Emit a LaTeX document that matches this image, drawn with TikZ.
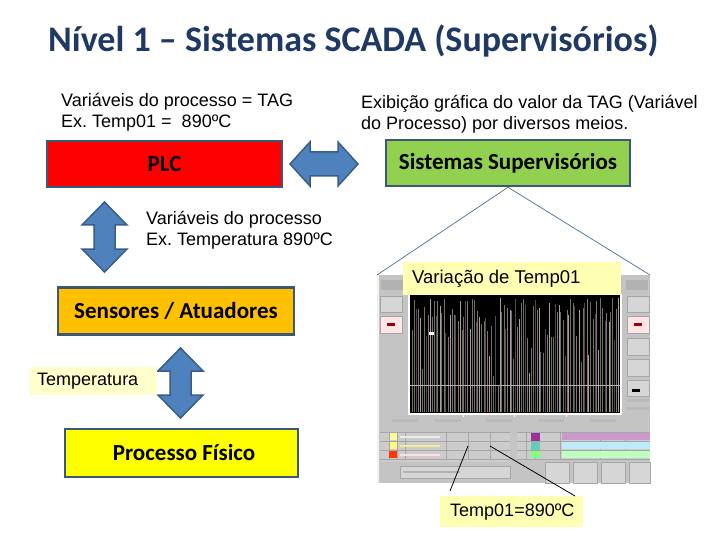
\documentclass[tikz,border=0pt]{standalone}
\usepackage{fontspec}
\setmainfont{Liberation Sans}
\newfontfamily\calib{Carlito}
\usetikzlibrary{positioning}
\definecolor{titlec}{HTML}{1F3864}
\definecolor{bordc}{HTML}{3B5878}
\definecolor{arrf}{HTML}{4F81BD}
\definecolor{arrb}{HTML}{385D8A}
\definecolor{plcred}{HTML}{FF0000}
\definecolor{supgreen}{HTML}{92D050}
\definecolor{sensor}{HTML}{FFC000}
\definecolor{procy}{HTML}{FFFF00}
\definecolor{paley}{HTML}{FFFFB4}
\definecolor{paley2}{HTML}{FFFFCC}
\definecolor{panel}{HTML}{C4C4C4}
\definecolor{panel2}{HTML}{D6D6D6}
\definecolor{tline}{HTML}{4A6E95}
\definecolor{pl1}{HTML}{6E6E6E}
\definecolor{pl2}{HTML}{8A7078}
\definecolor{pl3}{HTML}{6F7358}
\definecolor{pl4}{HTML}{A8A0A0}
\definecolor{pl5}{HTML}{4C4C50}
\tikzset{
  blockbox/.style={draw=bordc, line width=2.5pt, inner sep=0pt, font=\calib\bfseries\fontsize{23}{27}\selectfont},
  bigarrow/.style={fill=arrf, draw=arrb, line width=1.5pt, line join=miter},
  plaintext/.style={inner sep=0pt, align=left, anchor=north west, font=\fontsize{18}{21.5}\selectfont},
  tagbox/.style={fill=paley, inner sep=0pt, anchor=north west},
  btn/.style={fill=panel2, draw=gray!70, line width=0.6pt},
}
\frenchspacing
\begin{document}
\begin{tikzpicture}[x=1pt,y=-1pt]
\useasboundingbox (0,0) rectangle (720,540);
\fill[white] (0,0) rectangle (720,540);

% title
\node[anchor=base west, inner sep=0pt, text=titlec, font=\calib\bfseries\fontsize{36}{40}\selectfont] (title) at (48,52) {Nível 1 – Sistemas SCADA (Supervisórios)};

% texts
\node[plaintext] (t1) at (61,93) {Variáveis do processo = TAG\\Ex. Temp01 =\ \ 890ºC};
\node[plaintext] (t2) at (361,95) {Exibição gráfica do valor da TAG (Variável\\do Processo) por diversos meios.};
\node[plaintext] (t3) at (146,211) {Variáveis do processo\\Ex. Temperatura 890ºC};

% boxes
\node[blockbox, fill=plcred, minimum width=235pt, minimum height=46pt] (plc) at (164.5,164) {PLC};
\node[blockbox, fill=supgreen, minimum width=244pt, minimum height=46pt] (sup) at (508,163) {Sistemas Supervisórios};
\node[blockbox, fill=sensor, minimum width=236pt, minimum height=47pt] (sens) at (176,311) {Sensores / Atuadores};
\node[blockbox, fill=procy, minimum width=233pt, minimum height=48pt] (proc) at (181.5,453) {\ Processo Físico};

% horizontal double arrow
\draw[bigarrow] (290,164) -- (310,142) -- (310,152) -- (338,152) -- (338,142) -- (358,164)
  -- (338,186) -- (338,176) -- (310,176) -- (310,186) -- cycle;
% vertical double arrow 1
\draw[bigarrow] (104.5,202) -- (127,225) -- (115,225) -- (115,249) -- (127,249) -- (104.5,272)
  -- (82,249) -- (94,249) -- (94,225) -- (82,225) -- cycle;
% vertical double arrow 2
\draw[bigarrow] (180.5,348) -- (203,371) -- (191,371) -- (191,395) -- (203,395) -- (180.5,418)
  -- (158,395) -- (170,395) -- (170,371) -- (158,371) -- cycle;

% Temperatura label
\node[fill=paley2, inner sep=0pt, minimum width=127pt, minimum height=28pt, anchor=north west] (temp) at (30,367) {};
\node[anchor=west, inner sep=0pt, font=\fontsize{18}{21}\selectfont] at (37,381) {Temperatura};

% ---------- screenshot ----------
\coordinate (scrTL) at (377,275);
\coordinate (scrTR) at (650,275);
\fill[panel] (377,275) rectangle (650,483);
\fill[white!90!gray] (377,275) rectangle (379,483);
% top bar labels
\fill[gray!60] (381,280) rectangle (405,290);
\fill[gray!60] (626,280) rectangle (648,290);
% left buttons
\draw[btn] (380,296) rectangle (402,312);
\draw[btn, fill=pink!40] (380,316) rectangle (402,333);
\fill[red!60!black] (387,323) rectangle (395,326);
% right buttons
\draw[btn] (627,296) rectangle (649,312);
\draw[btn, fill=pink!40] (627,316) rectangle (649,333);
\fill[red!60!black] (634,323) rectangle (642,326);
\draw[btn] (627,338) rectangle (649,355);
\draw[btn] (627,359) rectangle (649,376);
\draw[btn] (627,380) rectangle (649,396);
\fill[black] (632,389) rectangle (640,392);
\fill[gray!55] (627,399) rectangle (649,402);
\fill[gray!55] (627,407) rectangle (649,410);
% plot area
\fill[white] (408,294) rectangle (622,415);
\fill[black] (410,294) rectangle (620,413);
\pgfmathsetseed{11}
\foreach \i in {0,...,104} {
  \pgfmathsetmacro{\xx}{412+\i*1.98+rnd*1.2}
  \pgfmathsetmacro{\yy}{298+rnd*rnd*95}
  \pgfmathsetmacro{\cc}{int(mod(\i*7,5))}
  \ifnum\cc=0 \def\lc{pl1}\fi
  \ifnum\cc=1 \def\lc{pl2}\fi
  \ifnum\cc=2 \def\lc{pl3}\fi
  \ifnum\cc=3 \def\lc{pl4}\fi
  \ifnum\cc=4 \def\lc{pl5}\fi
  \draw[\lc, line width=0.75pt] (\xx,\yy) -- (\xx,412);
}
\draw[gray!60, line width=0.4pt] (410,385) -- (620,385);
\fill[white] (429,332) rectangle (434,335);
% time axis
\foreach \x in {400,443,494,546,598} {
  \fill[gray!55] (\x-8,419) rectangle (\x+18,421.5);
}
\foreach \x in {463,514,566} { \fill[white] (\x,413) rectangle (\x+1,417); }
% left table
\fill[gray!40] (380,432) rectangle (510,462);
\foreach \y in {432,441,450,459} { \draw[gray!70, line width=0.5pt] (380,\y) -- (510,\y); }
\foreach \x in {389,397,405,446,468,490} { \draw[gray!70, line width=0.5pt] (\x,432) -- (\x,459); }
\fill[white!60!yellow] (390,433) rectangle (397,440);
\fill[yellow!50] (390,442) rectangle (397,449);
\fill[red!55!orange] (389,451) rectangle (397,458);
\fill[white!85!gray] (400,436) rectangle (440,438);
\fill[olive!30!yellow!40] (400,445) rectangle (440,447);
\fill[pink!50] (400,454) rectangle (440,456);
% right table
\fill[gray!40] (517,432) rectangle (650,459);
\foreach \y in {432,441,450,459} { \draw[gray!70, line width=0.5pt] (517,\y) -- (650,\y); }
\foreach \x in {526,535,560,600,625} { \draw[gray!70, line width=0.5pt] (\x,432) -- (\x,459); }
\fill[violet!80] (531,433) rectangle (540,441);
\fill[cyan!50!green!60] (531,442) rectangle (540,450);
\fill[green!50] (531,451) rectangle (540,458);
\fill[violet!40] (562,433) rectangle (650,440);
\fill[cyan!25] (562,442) rectangle (650,449);
\fill[green!25] (562,451) rectangle (650,458);
% text field
\draw[gray!70, fill=panel2] (400,466) rectangle (510,478);
\fill[gray!60] (403,471) rectangle (460,473);
% bottom buttons
\draw[btn] (545,462) rectangle (569,483);
\draw[btn] (573,462) rectangle (597,483);
\draw[btn] (601,462) rectangle (625,483);
\draw[btn] (629,462) rectangle (650,483);
\coordinate (pA) at (468,446);
\coordinate (pB) at (490,446);

% lines from supervisory box
\draw[tline, line width=0.7pt] (sup.south) -- (scrTL);
\draw[tline, line width=0.7pt] (sup.south) -- (scrTR);

% Variação label
\node[tagbox, minimum width=218pt, minimum height=33pt] (var) at (403,262) {};
\node[anchor=west, inner sep=0pt, font=\fontsize{18.5}{21}\selectfont] at (412,278.5) {Variação de Temp01};

% Temp01 label
\node[tagbox, minimum width=143pt, minimum height=31pt] (tv) at (440,496) {};
\node[anchor=west, inner sep=0pt, font=\fontsize{18}{20}\selectfont] at (450,512) {Temp01=890ºC};
\coordinate (tvL) at (450,491);
\coordinate (tvR) at (575,496);
\draw[black, line width=0.8pt] (tvL) -- (pA);
\draw[black, line width=0.8pt] (tvR) -- (pB);
\end{tikzpicture}
\end{document}
